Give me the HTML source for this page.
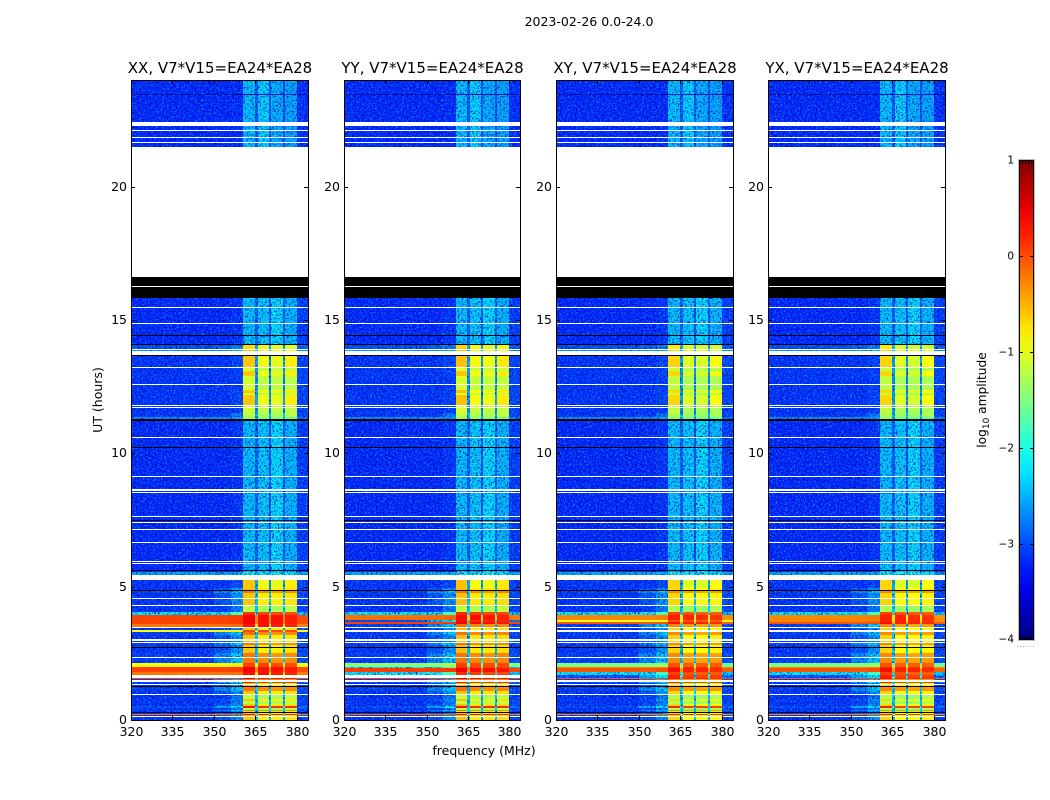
<!DOCTYPE html>
<html lang="en">
<head>
<meta charset="utf-8">
<title>2023-02-26 0.0-24.0</title>
<style>
html,body{margin:0;padding:0;background:#fff;width:1050px;height:800px;overflow:hidden}
svg{display:block}
text{font-family:"DejaVu Sans","Liberation Sans",sans-serif;fill:#000}
</style>
</head>
<body>
<svg id="chart" xmlns="http://www.w3.org/2000/svg" width="1050" height="800" viewBox="0 0 1050 800">
  <defs>
    <filter id="grain-light" x="0" y="0" width="100%" height="100%" color-interpolation-filters="sRGB">
      <feTurbulence type="fractalNoise" baseFrequency="0.62" numOctaves="2" seed="4"/>
      <feColorMatrix values="0 0 0 0 0.05  0 0 0 0 0.65  0 0 0 0 1  3 0 0 0 -1.45"/>
    </filter>
    <filter id="grain-dark" x="0" y="0" width="100%" height="100%" color-interpolation-filters="sRGB">
      <feTurbulence type="fractalNoise" baseFrequency="0.55" numOctaves="2" seed="9"/>
      <feColorMatrix values="0 0 0 0 0  0 0 0 0 0  0 0 0 0 0.7  3 0 0 0 -1.45"/>
    </filter>
    <pattern id="grain" patternUnits="userSpaceOnUse" width="240" height="240">
      <rect width="240" height="240" filter="url(#grain-light)"/>
      <rect width="240" height="240" filter="url(#grain-dark)"/>
    </pattern>
    <linearGradient id="colorbar-gradient" x1="0" y1="1" x2="0" y2="0"></linearGradient>
  </defs>
  <text x="589" y="26" font-size="12.5" text-anchor="middle">2023-02-26 0.0-24.0</text>
  <text transform="translate(102,400) rotate(-90)" font-size="12.5" text-anchor="middle">UT (hours)</text>
  <text x="484" y="755" font-size="12.5" text-anchor="middle">frequency (MHz)</text>
  <text transform="translate(986,400) rotate(-90)" font-size="12.2" text-anchor="middle">log<tspan font-size="9" dy="3">10</tspan><tspan dy="-3"> amplitude</tspan></text>
</svg>
<script>
// ---- chart data (log10 amplitude, frequency in MHz, time in UT hours) ----
const panelTitles = ["XX, V7*V15=EA24*EA28", "YY, V7*V15=EA24*EA28", "XY, V7*V15=EA24*EA28", "YX, V7*V15=EA24*EA28"];
const freqTicks = [320, 335, 350, 365, 380];
const hourTicks = [0, 5, 10, 15, 20];
const colorTicks = [1, 0, -1, -2, -3, -4];
const colorTickLabels = ["1", "0", "\u22121", "\u22122", "\u22123", "\u22124"];
const freqEdges = [320, 350, 356, 360.6, 364.8, 365.8, 369.9, 370.6, 374.8, 375.7, 380, 384];

// amplitude spectrum of each row type, one value per frequency segment
const spectra = {
  k: [-9, -9, -9, -9, -9, -9, -9, -9, -9, -9, -9],
  n: [-3.9, -3.9, -3.9, -3.8, -3.8, -3.8, -3.8, -3.8, -3.8, -3.8, -3.9],
  Q: [-3.22, -3.22, -3.2, -2.35, -2.95, -2.25, -2.95, -2.45, -3.0, -2.5, -3.18],
  q: [-3.22, -3.22, -3.15, -2.35, -2.9, -2.3, -3.0, -2.2, -2.9, -2.4, -3.1],
  s: [-2.5, -2.5, -2.45, -2.0, -2.4, -2.0, -2.4, -2.0, -2.4, -2.1, -2.5],
  p: [-2.6, -2.6, -2.5, -1.4, -2.5, -1.5, -2.5, -1.5, -2.5, -1.6, -2.7],
  b: [-3.0, -2.9, -2.7, -0.7, -2.4, -1.0, -2.4, -1.05, -2.4, -1.05, -2.9],
  c: [-2.5, -2.5, -2.4, -0.6, -2.3, -0.95, -2.3, -0.95, -2.3, -0.95, -2.6],
  h: [-3.15, -3.15, -3.1, -1.1, -2.6, -1.2, -2.7, -1.2, -2.6, -1.2, -3.05],
  f: [-3.15, -3.15, -3.05, -0.6, -2.5, -0.95, -2.6, -1.0, -2.5, -0.8, -3.05],
  g: [-3.15, -3.1, -2.75, -1.2, -2.3, -1.3, -2.3, -1.3, -2.3, -1.2, -3.05],
  y: [-3.15, -2.95, -2.6, -0.6, -2.3, -0.8, -2.3, -0.8, -2.3, -0.75, -3.05],
  o: [-3.1, -2.65, -2.3, -0.2, -2.2, -0.3, -2.2, -0.35, -2.2, -0.3, -3.0],
  r: [-3.0, -2.45, -2.1, 0.3, -1.9, 0.15, -1.9, 0.15, -1.9, 0.15, -2.8],
  C: [-2.1, -2, -1.8, 0.15, -1.9, 0.05, -1.9, 0.0, -1.9, 0.0, -2.3],
  G: [-1.45, -1.4, -1.3, 0.05, -1.5, 0.0, -1.5, 0.0, -1.5, 0.0, -1.5],
  Y: [-0.9, -0.85, -0.8, 0.05, -1.2, 0.05, -1.2, 0.0, -1.2, 0.0, -0.9],
  O: [-0.2, -0.18, -0.15, 0.3, -0.7, 0.3, -0.7, 0.25, -0.7, 0.2, -0.25],
  R: [0.05, 0.05, 0.08, 0.4, -0.3, 0.3, -0.3, 0.3, -0.3, 0.25, 0.0]
};

// rows from the top of the axes: [hour at top edge of the row, row type]
// "w" = no data (white); S1..S9 = rows that differ between polarisations
const rows = [
  [24.00,"Q"],[23.48,"n"],[23.44,"Q"],[22.44,"w"],[22.27,"Q"],[22.13,"w"],[22.07,"Q"],[21.88,"w"],[21.84,"Q"],
  [21.69,"w"],[21.65,"Q"],[21.50,"w"],[16.60,"k"],[16.28,"w"],[16.25,"k"],[15.84,"q"],[15.58,"w"],[15.56,"q"],
  [15.49,"w"],[15.46,"q"],[15.09,"k"],[15.06,"q"],[14.88,"w"],[14.85,"q"],[14.42,"k"],[14.39,"q"],[14.10,"k"],
  [14.06,"b"],[13.93,"w"],[13.89,"c"],[13.84,"w"],[13.69,"k"],[13.65,"f"],[13.24,"w"],[13.20,"h"],[13.10,"w"],
  [13.07,"f"],[12.90,"h"],[12.59,"w"],[12.56,"h"],[12.38,"f"],[12.27,"h"],[12.19,"f"],[11.81,"w"],[11.78,"h"],
  [11.75,"w"],[11.71,"h"],[11.50,"g"],[11.36,"p"],[11.28,"k"],[11.22,"q"],[10.61,"w"],[10.56,"q"],[10.23,"k"],
  [10.20,"q"],[9.15,"w"],[9.10,"q"],[8.65,"w"],[8.60,"q"],[8.58,"w"],[8.52,"q"],[8.04,"k"],[8.01,"q"],[7.64,"w"],
  [7.60,"q"],[7.49,"k"],[7.45,"q"],[7.43,"w"],[7.39,"q"],[7.16,"w"],[7.13,"q"],[6.66,"w"],[6.63,"q"],[5.96,"w"],
  [5.93,"q"],[5.89,"w"],[5.85,"q"],[5.63,"k"],[5.59,"q"],[5.56,"s"],[5.44,"w"],[5.25,"f"],[4.96,"k"],[4.94,"y"],
  [4.88,"k"],[4.85,"o"],[4.75,"y"],[4.56,"w"],[4.54,"y"],[4.31,"w"],[4.29,"g"],[4.06,"S1"],[3.94,"S2"],[3.75,"S3"],
  [3.68,"R"],[3.60,"S4"],[3.49,"w"],[3.45,"y"],[3.39,"S5"],[3.29,"o"],[3.20,"y"],[3.02,"w"],[2.98,"y"],[2.94,"w"],
  [2.90,"o"],[2.80,"y"],[2.72,"k"],[2.69,"y"],[2.50,"o"],[2.36,"w"],[2.34,"o"],[2.13,"S6"],[2.00,"S7"],[1.94,"R"],
  [1.81,"S8"],[1.69,"S9"],[1.58,"R"],[1.54,"o"],[1.49,"w"],[1.44,"r"],[1.40,"y"],[1.38,"w"],[1.31,"y"],[1.29,"k"],
  [1.25,"o"],[1.10,"y"],[0.98,"w"],[0.95,"g"],[0.80,"y"],[0.72,"g"],[0.60,"y"],[0.52,"r"],[0.46,"g"],[0.37,"o"],
  [0.33,"g"],[0.29,"k"],[0.25,"y"],[0.21,"O"],[0.18,"y"],[0.16,"w"],[0.12,"y"]
];

const slotsXX = {S1:"C", S2:"R", S3:"R", S4:"O", S5:"Y", S6:"Y", S7:"R", S8:"O", S9:"w"};
const slotsYY = {S1:"C", S2:"O", S3:"r", S4:"o", S5:"w", S6:"G", S7:"C", S8:"C", S9:"w"};
const slotsXY = {S1:"C", S2:"O", S3:"Y", S4:"o", S5:"w", S6:"G", S7:"O", S8:"C", S9:"r"};
const slotsYX = {S1:"C", S2:"O", S3:"O", S4:"o", S5:"w", S6:"G", S7:"O", S8:"C", S9:"r"};
const panelSlots = [slotsXX, slotsYY, slotsXY, slotsYX];
const panelLift = [0, 0.03, -0.08, -0.08];

// ---- layout and scales ----
const SVG_NS = "http://www.w3.org/2000/svg";
const chart = document.getElementById("chart");
const axesLeft = [131, 344, 556, 768];
const axesWidths = [177, 176, 177, 177];
const axesTop = 80;
const axesBottom = 720;
const freqMin = 320, freqMax = 384, hourMax = 24, colorMin = -4, colorMax = 1;
const barLeft = 1019, barRight = 1034, barTop = 160, barBottom = 640;

function xScale(panel, freq) { return axesLeft[panel] + (freq - freqMin) / (freqMax - freqMin) * axesWidths[panel]; }
function yScale(hour) { return axesBottom - hour / hourMax * (axesBottom - axesTop); }
function barScale(value) { return barBottom - (value - colorMin) / (colorMax - colorMin) * (barBottom - barTop); }
function clamp01(v) { return Math.max(0, Math.min(1, v)); }
function jet(t) {
  const r = clamp01(1.5 - Math.abs(4 * t - 3));
  const g = clamp01(1.5 - Math.abs(4 * t - 2));
  const b = clamp01(1.5 - Math.abs(4 * t - 1));
  return "rgb(" + Math.round(r * 255) + "," + Math.round(g * 255) + "," + Math.round(b * 255) + ")";
}
function colorScale(value) {
  if (value < colorMin) return "#000";
  return jet((value - colorMin) / (colorMax - colorMin));
}
function make(tag, parent, attrs) {
  const el = document.createElementNS(SVG_NS, tag);
  for (const key in attrs) el.setAttribute(key, attrs[key]);
  parent.appendChild(el);
  return el;
}

// ---- panels ----
panelTitles.forEach(function (title, p) {
  const axesWidth = axesWidths[p];
  const group = make("g", chart, {});
  
  

  const heat = make("g", group, {"shape-rendering": "crispEdges"});
  
  

  rows.forEach(function (row, i) {
    let kind = row[1];
    if (panelSlots[p][kind]) kind = panelSlots[p][kind];
    if (kind === "w") return;
    const nextHour = i + 1 < rows.length ? rows[i + 1][0] : 0;
    const y0 = Math.round(yScale(row[0]));
    const y1 = Math.max(y0 + 1, Math.round(yScale(nextHour)));
    const spectrum = spectra[kind];
    spectrum.forEach(function (base, s) {
      const value = base < colorMin ? base : base + (base > -1.8 ? panelLift[p] : 0);
      const x0 = Math.round(xScale(p, freqEdges[s]));
      const x1 = Math.round(xScale(p, freqEdges[s + 1]));
      const cell = make("rect", heat, {x: x0, y: y0, width: x1 - x0, height: y1 - y0, fill: colorScale(value)});
      
      
      if (value >= colorMin && value < -1.8) {
        const speckle = make("rect", heat, {x: x0, y: y0, width: x1 - x0, height: y1 - y0, fill: "url(#grain)"});
        
        
      }
    });
  });

  const frame = make("rect", group, {x: axesLeft[p] + 0.5, y: axesTop + 0.5, width: axesWidth, height: axesBottom - axesTop, fill: "none", stroke: "#000", "stroke-width": 1});
  
  

  const paneTitle = make("text", group, {x: axesLeft[p] + axesWidth / 2 + 0.5, y: 73, "font-size": 15, "text-anchor": "middle"});
  paneTitle.textContent = title;
  
  

  freqTicks.forEach(function (f) {
    const x = Math.round(xScale(p, f)) + 0.5;
    const tickB = make("line", group, {x1: x, x2: x, y1: axesBottom, y2: axesBottom - 4, stroke: "#000", "stroke-width": 1});
    
    
    const tickT = make("line", group, {x1: x, x2: x, y1: axesTop, y2: axesTop + 4, stroke: "#000", "stroke-width": 1});
    
    
    const label = make("text", group, {x: x, y: 736, "font-size": 12.5, "text-anchor": "middle"});
    label.textContent = String(f);
    
    
  });

  hourTicks.forEach(function (h) {
    const y = Math.round(yScale(h)) + 0.5;
    const tickL = make("line", group, {x1: axesLeft[p], x2: axesLeft[p] + 4, y1: y, y2: y, stroke: "#000", "stroke-width": 1});
    
    
    const tickR = make("line", group, {x1: axesLeft[p] + axesWidth - 4, x2: axesLeft[p] + axesWidth, y1: y, y2: y, stroke: "#000", "stroke-width": 1});
    
    
    const label = make("text", group, {x: axesLeft[p] - 4, y: y + 3.5, "font-size": 12.5, "text-anchor": "end"});
    label.textContent = String(h);
    
    
  });
});

// ---- colorbar ----
const gradient = document.getElementById("colorbar-gradient");
for (let t = 0; t <= 20; t++) {
  make("stop", gradient, {offset: t / 20, "stop-color": jet(t / 20)});
}
const bar = make("g", chart, {});


const barFill = make("rect", bar, {x: barLeft, y: barTop, width: barRight - barLeft, height: barBottom - barTop, fill: "url(#colorbar-gradient)"});


const barFrame = make("rect", bar, {x: barLeft + 0.5, y: barTop + 0.5, width: barRight - barLeft - 1, height: barBottom - barTop - 1, fill: "none", stroke: "#000", "stroke-width": 1});


const barHalo = make("rect", bar, {x: barLeft - 0.5, y: barTop - 0.5, width: barRight - barLeft + 1, height: barBottom - barTop + 1, fill: "none", stroke: "#bbb", "stroke-width": 1});



colorTicks.forEach(function (v, i) {
  const y = Math.min(barBottom - 1, Math.round(barScale(v))) + 0.5;
  const tickL = make("line", bar, {x1: barLeft, x2: barLeft + 4, y1: y, y2: y, stroke: "#000", "stroke-width": 1});
  
  
  const tickR = make("line", bar, {x1: barRight - 4, x2: barRight, y1: y, y2: y, stroke: "#000", "stroke-width": 1});
  
  
  const label = make("text", bar, {x: barLeft - 5, y: y + 3, "font-size": 10.5, "text-anchor": "end"});
  label.textContent = colorTickLabels[i];
  
  
});

[0.2, 0.4, 0.6, 0.8].forEach(function (frac) {
  const x = Math.round(barLeft + frac * (barRight - barLeft)) + 0.5;
  const top = make("line", bar, {x1: x, x2: x, y1: barTop, y2: barTop + 4, stroke: "#000", "stroke-width": 1});
  
  
  const bottom = make("line", bar, {x1: x, x2: x, y1: barBottom - 4, y2: barBottom, stroke: "#000", "stroke-width": 1});
  
  
});
[0, 0.2, 0.4, 0.6, 0.8, 1].forEach(function (frac) {
  const dot = make("rect", bar, {x: Math.round(barLeft - 2 + frac * (barRight - barLeft + 1)), y: 646, width: 1, height: 1, fill: "#aaa"});
  
  
});
</script>
</body>
</html>
